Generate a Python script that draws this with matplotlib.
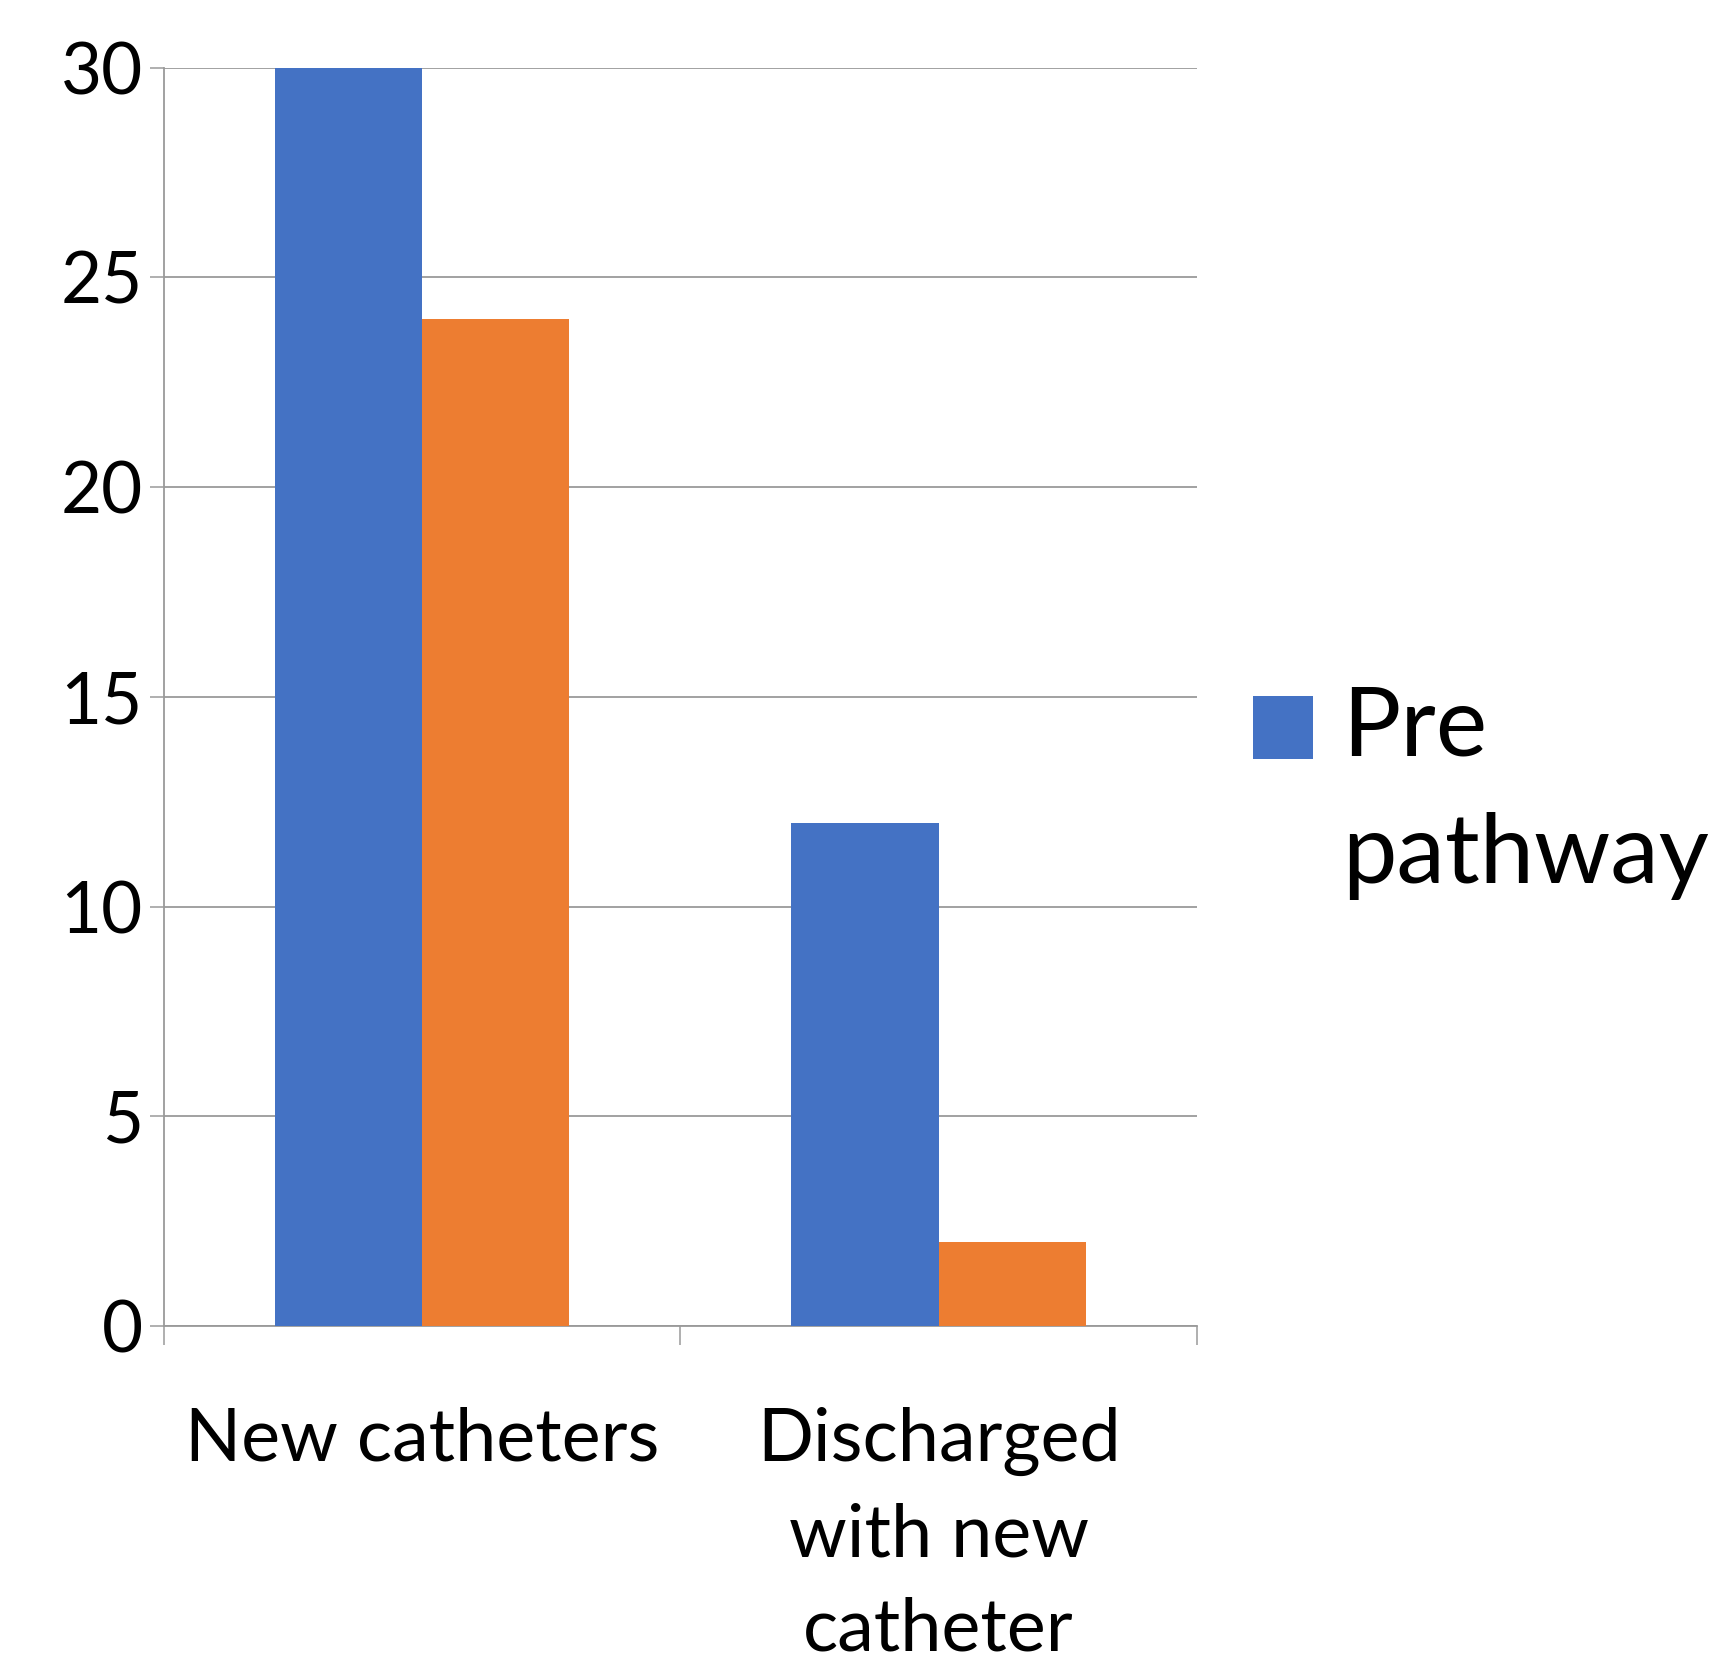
import matplotlib
matplotlib.use("Agg")
import matplotlib.pyplot as plt
import matplotlib.patches as mpatches
from matplotlib.legend_handler import HandlerPatch
import numpy as np

# catheter counts before / after the pathway
categories = ["New catheters", "Discharged\nwith new\ncatheter"]
pre_pathway = [30, 12]
post_pathway = [24, 2]
series_names = ["Pre\npathway", "Post\npathway"]
y_ticks = [0, 5, 10, 15, 20, 25, 30]

BLUE = "#4472C4"
ORANGE = "#ED7D31"
GRID = "#9a9a9a"

plt.rcParams["font.family"] = ["Lato", "DejaVu Sans"]


def top_square(legend, orig_handle, xdescent, ydescent, width, height, fontsize):
    # keep the swatch level with the first line of a wrapped label
    return mpatches.Rectangle((-xdescent, -ydescent + 0.68 * fontsize), width, height)


fig = plt.figure(figsize=(17.09, 16.60), dpi=100)
ax = fig.add_axes([0.0957, 0.2012, 0.6047, 0.7581])

x = np.arange(len(categories))
width = 0.285
bars_pre = ax.bar(x - width / 2, pre_pathway, width, color=BLUE, label=series_names[0], zorder=3)
bars_post = ax.bar(x + width / 2, post_pathway, width, color=ORANGE, label=series_names[1], zorder=3)

ax.set_xlim(-0.5, len(categories) - 0.5)
ax.set_ylim(0, 30)
ax.set_yticks(y_ticks)
ax.set_yticklabels([str(t) for t in y_ticks], fontsize=51)
ax.set_xticks(x)
ax.set_xticklabels(categories, fontsize=53, linespacing=1.5)
ax.set_xticks(np.arange(-0.5, len(categories)), minor=True)

ax.tick_params(axis="y", direction="out", length=10, width=1.1, color=GRID, pad=5)
ax.tick_params(axis="x", which="major", length=0, pad=58)
ax.tick_params(axis="x", which="minor", direction="out", length=14, width=1.1, color=GRID)

ax.grid(axis="y", color=GRID, linewidth=1.3, zorder=0)
for side in ["top", "right"]:
    ax.spines[side].set_visible(False)
for side in ["left", "bottom"]:
    ax.spines[side].set_color(GRID)
    ax.spines[side].set_linewidth(1.3)

# only the first series entry fits on the canvas
leg = ax.legend(handles=[bars_pre[0]], labels=[series_names[0]], loc="upper left",
                bbox_to_anchor=(1253 / 1709, 1 - 685 / 1660), bbox_transform=fig.transFigure,
                frameon=False, fontsize=70, borderpad=0, borderaxespad=0,
                handlelength=0.62, handleheight=0.62, handletextpad=0.30,
                handler_map={mpatches.Rectangle: HandlerPatch(patch_func=top_square)})
for t in leg.get_texts():
    t.set_linespacing(1.55)

fig.savefig("out.png", dpi=100, facecolor="white")
